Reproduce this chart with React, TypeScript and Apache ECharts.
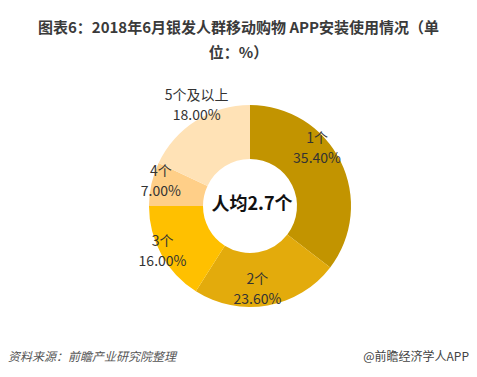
import React, { useEffect, useRef } from "react";
import * as echarts from "echarts";

const categories = ["1个", "2个", "3个", "4个", "5个及以上"];
const values = [35.4, 23.6, 16.0, 7.0, 18.0];
const colors = ["#C29400", "#E3AB0C", "#FFC000", "#FFCF88", "#FFE2B6"];
const labelOffsets = [[-2, -25], [-6, 6], [-20, 7], [-14, -9], [-12, -37]];

const titleText = "图表6：2018年6月银发人群移动购物 APP安装使用情况（单\n位：%）";
const centerText = "人均2.7个";
const sourceText = "资料来源：前瞻产业研究院整理";
const brandText = "@前瞻经济学人APP";

export default function App() {
  const ref = useRef<HTMLDivElement>(null);
  useEffect(() => {
    if (!ref.current) return;
    const chart = echarts.init(ref.current, null, { renderer: "svg" });
    const font = "'Noto Sans CJK SC', 'Noto Sans', sans-serif";
    chart.setOption({
      animation: false,
      backgroundColor: "#ffffff",
      title: {
        text: titleText,
        left: "center",
        top: 9,
        textStyle: {
          fontSize: 15,
          fontWeight: "bold",
          color: "#3a3a3a",
          fontFamily: font,
          lineHeight: 25,
        },
      },
      graphic: [
        {
          type: "text",
          x: 252,
          y: 202,
          z: 100,
          style: {
            text: centerText,
            font: `bold 18px ${font}`,
            fill: "#111",
            textAlign: "center",
            textVerticalAlign: "middle",
          },
        },
        {
          type: "text",
          left: 8,
          top: 349,
          style: {
            text: sourceText,
            font: `italic 12px ${font}`,
            fill: "#555",
          },
        },
        {
          type: "text",
          right: 8,
          top: 349,
          style: {
            text: brandText,
            font: `12px ${font}`,
            fill: "#444",
          },
        },
      ],
      series: [
        {
          type: "pie",
          center: [250, 206],
          radius: [47, 101],
          startAngle: 90,
          clockwise: true,
          avoidLabelOverlap: false,
          itemStyle: { borderWidth: 0 },
          label: {
            show: true,
            position: "inside",
            formatter: (p: any) => `${p.name}\n${p.value.toFixed(2)}%`,
            fontSize: 14,
            lineHeight: 20,
            color: "#333",
            fontFamily: font,
          },
          labelLine: { show: false },
          emphasis: { disabled: true },
          data: categories.map((c, i) => ({
            name: c,
            value: values[i],
            itemStyle: { color: colors[i] },
            label: { offset: labelOffsets[i] },
          })),
        },
      ],
    });
    return () => chart.dispose();
  }, []);
  return (
    <div
      ref={ref}
      style={{ position: "fixed", left: 0, top: 0, width: 477, height: 377 }}
    />
  );
}
